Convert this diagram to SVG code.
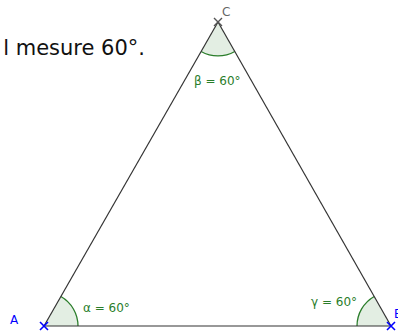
<svg xmlns="http://www.w3.org/2000/svg" width="398" height="331" viewBox="0 0 398 331">
<style>
.side{stroke:#333;stroke-width:1.2;fill:none}
.sector{fill:#006400;fill-opacity:0.11;stroke:none}
.arc{stroke:#2a7d2a;stroke-width:1.3;fill:none}
.alab{font-family:"DejaVu Sans",Verdana,sans-serif;font-size:12px;fill:#2a7d2a}
.xblue{stroke:#0000ff;stroke-width:1.6}
.xgray{stroke:#555;stroke-width:1.4}
.plab{font-family:"DejaVu Sans",Verdana,sans-serif;font-size:12px}
</style>
<rect width="398" height="331" fill="#fff"/>
<text x="145" y="55" text-anchor="end" font-family="'DejaVu Sans',Verdana,sans-serif" font-size="21" fill="#111">l mesure 60°.</text>
<g id="angle-alpha">
<path class="sector" d="M44,326 L78,326 A34,34 0 0 0 60.9,296.5 Z"/>
<path class="arc" d="M78,326 A34,34 0 0 0 60.9,296.5"/>
<text class="alab" x="83" y="312">α = 60°</text>
</g>
<g id="angle-beta">
<path class="sector" d="M218,22 L201.1,51.5 A34,34 0 0 0 234.8,51.5 Z"/>
<path class="arc" d="M201.1,51.5 A34,34 0 0 0 234.8,51.5"/>
<text class="alab" x="194" y="85">β = 60°</text>
</g>
<g id="angle-gamma">
<path class="sector" d="M391,326 L357,326 A34,34 0 0 1 374.2,296.5 Z"/>
<path class="arc" d="M357,326 A34,34 0 0 1 374.2,296.5"/>
<text class="alab" x="311" y="306">γ = 60°</text>
</g>
<g id="connectors">
<line class="side" x1="44" y1="326" x2="218" y2="22"/>
<line class="side" x1="218" y1="22" x2="391" y2="326"/>
<line class="side" x1="44" y1="326" x2="391" y2="326"/>
</g>
<g id="A">
<path class="xblue" d="M40,322 L48,330 M48,322 L40,330"/>
<text class="plab" x="10" y="324" fill="#0000ff">A</text>
</g>
<g id="B">
<path class="xblue" d="M387,322 L395,330 M395,322 L387,330"/>
<text class="plab" x="394" y="318" fill="#0000ff">B</text>
</g>
<g id="C">
<path class="xgray" d="M214,18 L222,26 M222,18 L214,26"/>
<text class="plab" x="222" y="16" fill="#666">C</text>
</g>
</svg>
